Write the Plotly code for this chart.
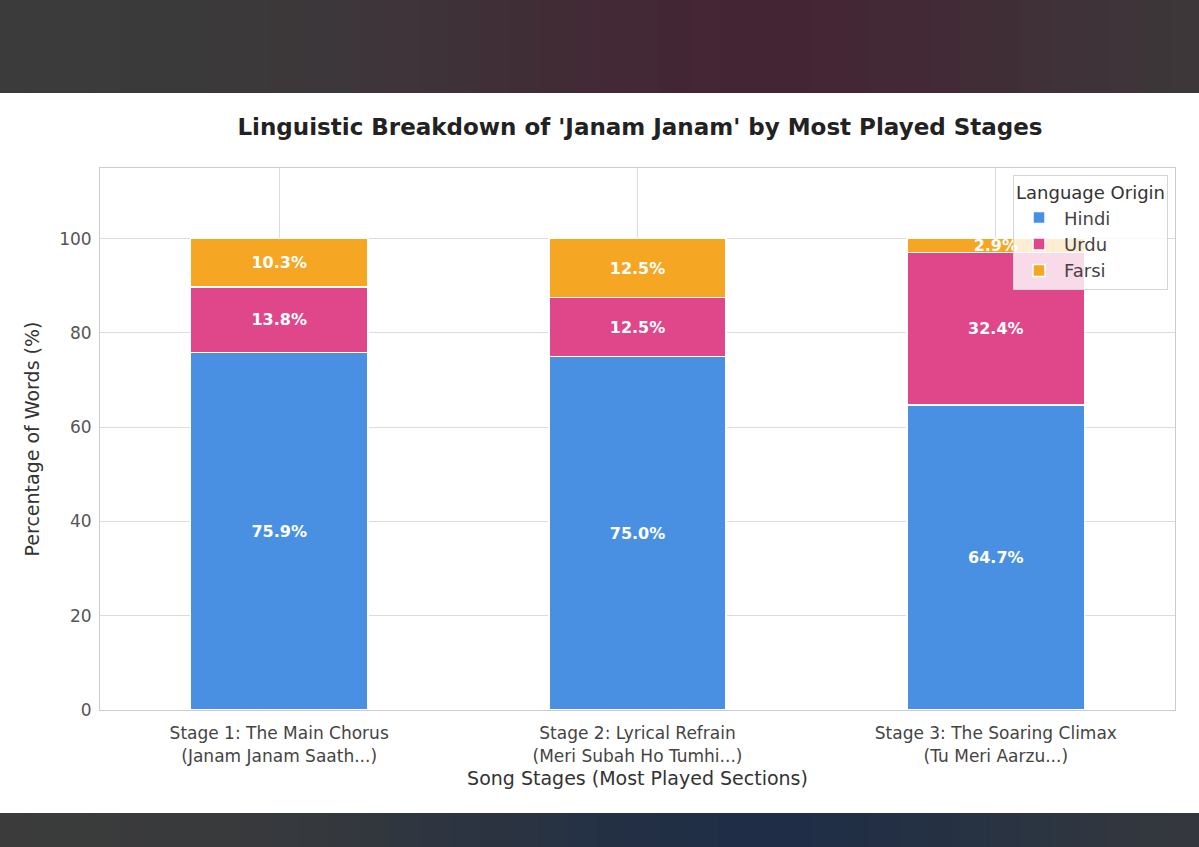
import plotly.graph_objects as go
import math

stages = [
    "Stage 1: The Main Chorus<br>(Janam Janam Saath...)",
    "Stage 2: Lyrical Refrain<br>(Meri Subah Ho Tumhi...)",
    "Stage 3: The Soaring Climax<br>(Tu Meri Aarzu...)",
]
hindi = [75.9, 75.0, 64.7]
urdu = [13.8, 12.5, 32.4]
farsi = [10.3, 12.5, 2.9]
series_names = ["Hindi", "Urdu", "Farsi"]
series_colors = ["#4A90E2", "#E0468A", "#F5A623"]
y_ticks = [0, 20, 40, 60, 80, 100]

fig = go.Figure()
for name, vals, col in zip(series_names, [hindi, urdu, farsi], series_colors):
    fig.add_trace(go.Bar(
        x=stages, y=vals, name=name,
        marker=dict(color=col, line=dict(color="white", width=1.5)),
        texttemplate="%{y:.1f}%", textposition="inside",
        insidetextanchor="middle", constraintext="none",
        textfont=dict(color="white", size=16, family="DejaVu Sans", weight="bold"),
        width=0.495,
    ))

# background bands (decorative frame of the screenshot)
W, H = 1199, 847
L, R, T, B = 100, 24, 168, 137
pw, ph = W - L - R, H - T - B

def px_x(p):
    return (p - L) / pw

def px_y(p):
    return (H - B - p) / ph

def lerp(c1, c2, t):
    return "rgb(%d,%d,%d)" % tuple(round(a + (b - a) * t) for a, b in zip(c1, c2))

shapes = []
n = 40
for i in range(n):
    x0p = W * i / n
    x1p = W * (i + 1) / n
    xc = (x0p + x1p) / 2
    t_top = math.exp(-((xc - 760) / 330) ** 2)
    t_bot = math.exp(-((xc - 760) / 360) ** 2)
    shapes.append(dict(type="rect", xref="paper", yref="paper", layer="below",
                       x0=px_x(x0p), x1=px_x(x1p + 1), y0=px_y(0), y1=px_y(93),
                       fillcolor=lerp((59, 59, 59), (68, 37, 52), t_top), line=dict(width=0)))
    shapes.append(dict(type="rect", xref="paper", yref="paper", layer="below",
                       x0=px_x(x0p), x1=px_x(x1p + 1), y0=px_y(813), y1=px_y(H),
                       fillcolor=lerp((59, 59, 59), (31, 46, 70), t_bot), line=dict(width=0)))

fig.update_layout(
    width=W, height=H,
    barmode="stack",
    paper_bgcolor="white", plot_bgcolor="white",
    margin=dict(l=L, r=R, t=T, b=B, autoexpand=False),
    font=dict(family="DejaVu Sans", color="#444"),
    title=dict(text="<b>Linguistic Breakdown of 'Janam Janam' by Most Played Stages</b>",
               x=(640) / W, xanchor="center", y=1 - 127 / H, yanchor="middle",
               font=dict(size=23, color="#222", family="DejaVu Sans")),
    xaxis=dict(title=dict(text="Song Stages (Most Played Sections)", font=dict(size=19, color="#333"), standoff=7),
               range=[-0.5, 2.5], showgrid=True, gridcolor="#dcdcdc",
               showline=True, linecolor="#cccccc", mirror=True,
               tickfont=dict(size=17, color="#444"), ticks="", ticklabelstandoff=8),
    yaxis=dict(title=dict(text="Percentage of Words (%)", font=dict(size=19, color="#333"), standoff=14),
               range=[0, 115], tickvals=y_ticks, showgrid=True, gridcolor="#dcdcdc",
               showline=True, linecolor="#cccccc", mirror=True, zeroline=False,
               tickfont=dict(size=17, color="#555"), ticks="", ticklabelstandoff=4),
    legend=dict(title=dict(text="Language Origin", side="top center", font=dict(size=18, color="#333")),
                x=px_x(1168), xanchor="right", y=px_y(175), yanchor="top",
                bgcolor="rgba(255,255,255,0.8)", bordercolor="#d5d5d5", borderwidth=1,
                font=dict(size=18, color="#444"), traceorder="normal", itemwidth=40),
    shapes=shapes,
    showlegend=True,
)

fig.write_html("out.html")
